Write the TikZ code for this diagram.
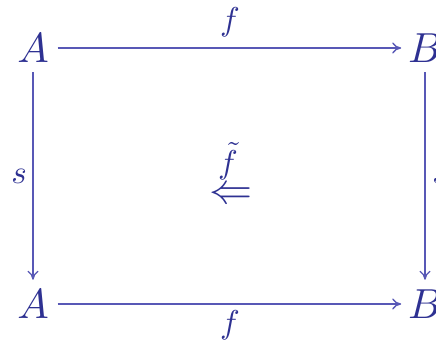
\documentclass[tikz,border=0pt]{standalone}
\usetikzlibrary{arrows.meta}
\definecolor{ink}{RGB}{46,49,146}
\definecolor{wire}{RGB}{88,88,182}
\begin{document}
\begin{tikzpicture}[x=1pt,y=1pt,
  obj/.style={text=ink,scale=4.2,inner sep=0pt},
  lab/.style={text=ink,scale=3.3,inner sep=0pt},
  cellarrow/.style={text=ink,scale=4.3,inner sep=0pt},
  arr/.style={draw=wire,line width=1.3pt,-{To[length=9pt,width=11pt]}}]
\useasboundingbox (0,0) rectangle (436,342);
\clip (0,0) rectangle (436,342);
\node[obj] (A1) at (33,294) {$A$};
\node[obj] (B1) at (425,294) {$B$};
\node[obj] (A2) at (33,38) {$A$};
\node[obj] (B2) at (425,38) {$B$};
\draw[arr,shorten <=8pt,shorten >=6pt] (A1) -- (B1);
\draw[arr,shorten <=8pt,shorten >=6pt] (A2) -- (B2);
\draw[arr,shorten <=9pt,shorten >=9pt] (A1) -- (A2);
\draw[arr,shorten <=9pt,shorten >=9pt] (B1) -- (B2);
\node[lab] (ftop) at (230,320) {$f$};
\node[lab] (fbot) at (230,17) {$f$};
\node[lab] (sl) at (19,166) {$s$};
\node[lab] (sr) at (440,166) {$s$};
\node[lab] (ft) at (228,181) {$\tilde{f}$};
\node[cellarrow] (cell) at (231,146) {$\Leftarrow$};
\end{tikzpicture}
\end{document}
